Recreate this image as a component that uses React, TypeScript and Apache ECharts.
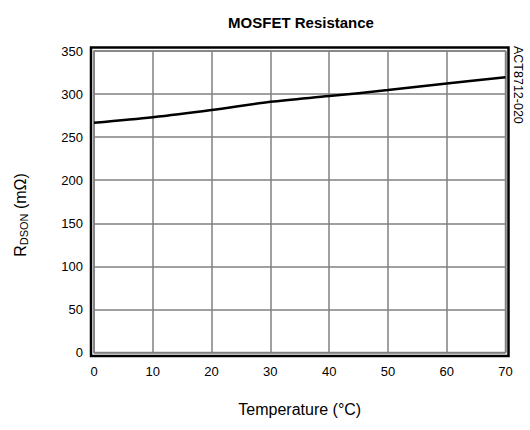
import React, { useEffect, useRef } from "react";
import * as echarts from "echarts";

const temps = [0, 10, 20, 30, 40, 50, 60, 70];
const rdson = [266.6, 273, 281.4, 291, 297.7, 304.6, 312.4, 319.4];
const title = "MOSFET Resistance";
const xName = "Temperature (°C)";
const docId = "ACT8712-020";

export default function App() {
  const ref = useRef<HTMLDivElement>(null);
  useEffect(() => {
    if (!ref.current) return;
    const chart = echarts.init(ref.current, null, { renderer: "svg" });
    const font = "Liberation Sans, Arial, sans-serif";
    chart.setOption({
      animation: false,
      backgroundColor: "#fff",
      title: {
        text: title,
        left: 296,
        top: 10,
        textAlign: "center",
        textStyle: { fontFamily: font, fontSize: 15, fontWeight: "bold", color: "#000" },
      },
      grid: {
        left: 94,
        right: 24.5,
        top: 51,
        bottom: 77.5,
        show: true,
        borderColor: "#808080",
        borderWidth: 1.5,
        backgroundColor: "transparent",
      },
      xAxis: {
        type: "value",
        min: 0,
        max: 70,
        interval: 10,
        name: xName,
        nameLocation: "middle",
        nameGap: 49,
        nameTextStyle: { fontFamily: font, fontSize: 16, color: "#000" },
        axisLine: { show: false },
        axisTick: { show: false },
        axisLabel: { fontFamily: font, fontSize: 13, color: "#000", margin: 12 },
        splitLine: { show: true, lineStyle: { color: "#808080", width: 1.5 } },
      },
      yAxis: {
        type: "value",
        min: 0,
        max: 350,
        interval: 50,
        axisLine: { show: false },
        axisTick: { show: false },
        axisLabel: { fontFamily: font, fontSize: 13, color: "#000", margin: 11 },
        splitLine: { show: true, lineStyle: { color: "#808080", width: 1.5 } },
      },
      graphic: [
        {
          type: "rect",
          z: 100,
          shape: { x: 91, y: 47.5, width: 417.5, height: 308.5 },
          style: { fill: "none", stroke: "#000", lineWidth: 2.5 },
        },
        {
          type: "text",
          x: 20,
          y: 215,
          rotation: Math.PI / 2,
          style: {
            text: "{a|R}{b|DSON}{a| (mΩ)}",
            align: "center",
            verticalAlign: "middle",
            rich: {
              a: { fontFamily: font, fontSize: 16, fill: "#000", color: "#000" },
              b: { fontFamily: font, fontSize: 11, fill: "#000", color: "#000", padding: [8, 0, 0, 0] },
            },
          },
        },
        {
          type: "text",
          x: 518,
          y: 46,
          rotation: -Math.PI / 2,
          style: {
            text: docId,
            fontFamily: font,
            fontSize: 12.5,
            fill: "#000",
            align: "left",
            verticalAlign: "middle",
          },
        },
      ],
      series: [
        {
          type: "line",
          data: temps.map((t, i) => [t, rdson[i]]),
          smooth: 0.3,
          symbol: "none",
          lineStyle: { color: "#000", width: 2.5 },
        },
      ],
    });
    return () => chart.dispose();
  }, []);
  return (
    <div
      ref={ref}
      style={{ position: "fixed", left: 0, top: 0, width: 530, height: 430 }}
    />
  );
}
